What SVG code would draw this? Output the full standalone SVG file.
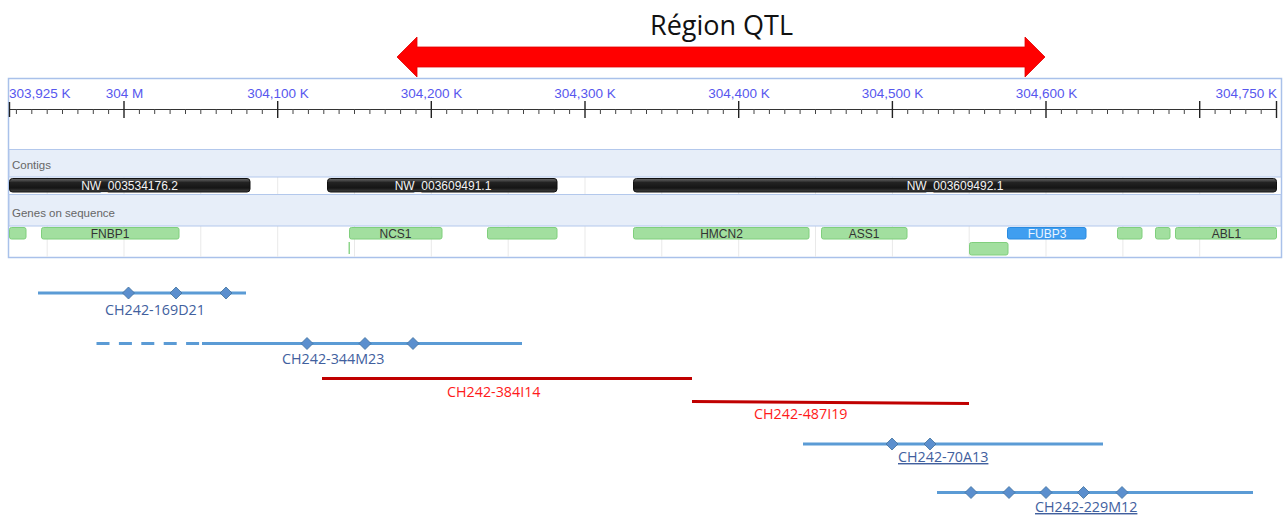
<svg xmlns="http://www.w3.org/2000/svg" width="1287" height="518" viewBox="0 0 1287 518">
<style>
.tick{font-family:"Liberation Sans",Arial,sans-serif;font-size:13.5px;fill:#5757ee}
.band{fill:#e7eef9;stroke:#b3c8ec;stroke-width:1}
.bandlbl{font-family:"Liberation Sans",Arial,sans-serif;font-size:11.5px;fill:#666}
.contig{fill:url(#cg);stroke:#111;stroke-width:1}
.clbl{font-family:"Liberation Sans",Arial,sans-serif;font-size:12px;fill:#f4f4f4;text-anchor:middle}
.gene{fill:#a2df9f;stroke:#80cf7d;stroke-width:1}
.glbl{font-family:"Liberation Sans",Arial,sans-serif;font-size:12px;fill:#333;text-anchor:middle}
.grid{stroke:#e9e9e9;stroke-width:1}
.clone{stroke:#5b9bd5;stroke-width:3;fill:none}
.redclone{stroke:#c00000;stroke-width:3;fill:none}
.dia{fill:#5b8fce;stroke:#41719c;stroke-width:0.8}
.blbl{font-family:"Open Sans","Liberation Sans",sans-serif;font-size:14.3px;fill:#41609e}
.rlbl{font-family:"Open Sans","Liberation Sans",sans-serif;font-size:14.3px;fill:#ff1a1a}
</style>
<defs>
<linearGradient id="cg" x1="0" y1="0" x2="0" y2="1">
<stop offset="0" stop-color="#6a6a6a"/>
<stop offset="0.3" stop-color="#222"/>
<stop offset="0.7" stop-color="#151515"/>
<stop offset="1" stop-color="#444"/>
</linearGradient>
<path id="dia" d="M0,-6 L6,0 L0,6 L-6,0Z"/>
</defs>
<rect width="1287" height="518" fill="#fff"/>

<g id="qtl-region">
<text x="650" y="35" font-family="'Open Sans','Liberation Sans',sans-serif" font-size="27" fill="#111">Région QTL</text>
<polygon points="397,57 417,37 417,47 1025,47 1025,37 1045,57 1025,77 1025,67 417,67 417,77" fill="#ff0000" stroke="#e00000" stroke-width="0.8"/>
</g>

<g id="panel">
<rect x="8.5" y="78.5" width="1273" height="179" fill="#fff" stroke="#a9c1ea" stroke-width="1.5"/>
</g>

<g id="ruler">
<path d="M9 109.5H1276.5" stroke="#333" stroke-width="1"/>
<path stroke="#444" stroke-width="1" d="M16.4 109v5M31.8 109v5M47.2 109v5M62.5 109v5M77.9 109v5M93.3 109v5M108.6 109v5M139.4 109v5M154.7 109v5M170.1 109v5M185.5 109v5M200.8 109v5M216.2 109v5M231.6 109v5M246.9 109v5M262.3 109v5M293 109v5M308.4 109v5M323.8 109v5M339.1 109v5M354.5 109v5M369.9 109v5M385.2 109v5M400.6 109v5M416 109v5M446.7 109v5M462.1 109v5M477.4 109v5M492.8 109v5M508.2 109v5M523.5 109v5M538.9 109v5M554.3 109v5M569.6 109v5M600.4 109v5M615.7 109v5M631.1 109v5M646.5 109v5M661.8 109v5M677.2 109v5M692.6 109v5M707.9 109v5M723.3 109v5M754 109v5M769.4 109v5M784.8 109v5M800.1 109v5M815.5 109v5M830.9 109v5M846.2 109v5M861.6 109v5M877 109v5M907.7 109v5M923.1 109v5M938.4 109v5M953.8 109v5M969.2 109v5M984.6 109v5M999.9 109v5M1015.3 109v5M1030.7 109v5M1061.4 109v5M1076.8 109v5M1092.1 109v5M1107.5 109v5M1122.9 109v5M1138.2 109v5M1153.6 109v5M1169 109v5M1184.3 109v5M1215.1 109v5M1230.4 109v5M1245.8 109v5M1261.2 109v5"/>
<path stroke="#222" stroke-width="1.4" d="M9.5 102v15M124 101v17M277.7 101v17M431.3 101v17M585 101v17M738.7 101v17M892.4 101v17M1046 101v17M1199.7 101v17M1276.5 101v17"/>
<text class="tick" x="9" y="98">303,925 K</text>
<text class="tick" x="124.5" y="98" text-anchor="middle">304 M</text>
<text class="tick" x="278" y="98" text-anchor="middle">304,100 K</text>
<text class="tick" x="431.5" y="98" text-anchor="middle">304,200 K</text>
<text class="tick" x="585" y="98" text-anchor="middle">304,300 K</text>
<text class="tick" x="739" y="98" text-anchor="middle">304,400 K</text>
<text class="tick" x="892.5" y="98" text-anchor="middle">304,500 K</text>
<text class="tick" x="1046.5" y="98" text-anchor="middle">304,600 K</text>
<text class="tick" x="1277" y="98" text-anchor="end">304,750 K</text>
</g>

<g id="grid">
<path class="grid" d="M47.2 177v17M124 177v17M200.8 177v17M277.7 177v17M354.5 177v17M431.3 177v17M508.2 177v17M585 177v17M661.8 177v17M738.7 177v17M815.5 177v17M892.4 177v17M969.2 177v17M1046 177v17M1122.9 177v17M1199.7 177v17"/>
<path class="grid" d="M47.2 226v31M124 226v31M200.8 226v31M277.7 226v31M354.5 226v31M431.3 226v31M508.2 226v31M585 226v31M661.8 226v31M738.7 226v31M815.5 226v31M892.4 226v31M969.2 226v31M1046 226v31M1122.9 226v31M1199.7 226v31"/>
</g>

<g id="contigs-track">
<rect class="band" x="9" y="149.5" width="1272" height="27.5"/>
<text class="bandlbl" x="12" y="169">Contigs</text>
</g>
<g id="contig-1"><rect class="contig" x="9.5" y="178.5" width="240.5" height="13.5" rx="3"/><text class="clbl" x="129.5" y="189.5">NW_003534176.2</text></g>
<g id="contig-2"><rect class="contig" x="327.5" y="178.5" width="229.5" height="13.5" rx="3"/><text class="clbl" x="443" y="189.5">NW_003609491.1</text></g>
<g id="contig-3"><rect class="contig" x="633.5" y="178.5" width="643" height="13.5" rx="3"/><text class="clbl" x="955" y="189.5">NW_003609492.1</text></g>

<g id="genes-track">
<rect class="band" x="9" y="194.5" width="1272" height="31.5"/>
<text class="bandlbl" x="12" y="217">Genes on sequence</text>
</g>
<g id="gene-a"><rect class="gene" x="9.5" y="227.5" width="16.5" height="11.5" rx="2"/></g>
<g id="gene-FNBP1"><rect class="gene" x="41.5" y="227.5" width="137.5" height="11.5" rx="2"/><text class="glbl" x="110" y="237.5">FNBP1</text></g>
<g id="gene-NCS1"><rect class="gene" x="349.5" y="227.5" width="92.5" height="11.5" rx="2"/><text class="glbl" x="395.5" y="237.5">NCS1</text><rect x="348.5" y="242" width="1.5" height="12" fill="#8fd68c"/></g>
<g id="gene-b"><rect class="gene" x="487.5" y="227.5" width="69.5" height="11.5" rx="2"/></g>
<g id="gene-HMCN2"><rect class="gene" x="633.5" y="227.5" width="175.5" height="11.5" rx="2"/><text class="glbl" x="721.5" y="237.5">HMCN2</text></g>
<g id="gene-ASS1"><rect class="gene" x="821.5" y="227.5" width="85.5" height="11.5" rx="2"/><text class="glbl" x="864" y="237.5">ASS1</text></g>
<g id="gene-c"><rect class="gene" x="969.5" y="242.5" width="38.5" height="12.5" rx="2"/></g>
<g id="gene-FUBP3"><rect x="1007.5" y="227.5" width="78.5" height="11.5" rx="2" fill="#3f9ef0" stroke="#2a8be0"/><text class="glbl" x="1047" y="237.5" style="fill:#eaf4ff">FUBP3</text></g>
<g id="gene-d"><rect class="gene" x="1117.5" y="227.5" width="24.5" height="11.5" rx="2"/></g>
<g id="gene-e"><rect class="gene" x="1155.5" y="227.5" width="14.5" height="11.5" rx="2"/></g>
<g id="gene-ABL1"><rect class="gene" x="1175.5" y="227.5" width="101" height="11.5" rx="2"/><text class="glbl" x="1226.5" y="237.5">ABL1</text></g>

<g id="clone-169D21">
<path class="clone" d="M38 293H246"/>
<use href="#dia" class="dia" x="128.5" y="293"/>
<use href="#dia" class="dia" x="176" y="293"/>
<use href="#dia" class="dia" x="226" y="293"/>
<text class="blbl" x="105" y="315">CH242-169D21</text>
</g>
<g id="clone-344M23">
<path class="clone" d="M96.5 343.5H200" stroke-dasharray="13 9.4"/>
<path class="clone" d="M202 343.5H522"/>
<use href="#dia" class="dia" x="307" y="343.5"/>
<use href="#dia" class="dia" x="365" y="343.5"/>
<use href="#dia" class="dia" x="413" y="343.5"/>
<text class="blbl" x="282" y="364">CH242-344M23</text>
</g>
<g id="clone-384I14">
<path class="redclone" d="M322 378.5H692"/>
<text class="rlbl" x="447" y="397">CH242-384I14</text>
</g>
<g id="clone-487I19">
<path class="redclone" d="M692 401.5L969 403.5"/>
<text class="rlbl" x="754" y="419">CH242-487I19</text>
</g>
<g id="clone-70A13">
<path class="clone" d="M803 444H1103"/>
<use href="#dia" class="dia" x="892" y="444"/>
<use href="#dia" class="dia" x="930" y="444"/>
<text class="blbl" x="898" y="462" text-decoration="underline">CH242-70A13</text>
</g>
<g id="clone-229M12">
<path class="clone" d="M937 492.5H1253"/>
<use href="#dia" class="dia" x="971" y="492.5"/>
<use href="#dia" class="dia" x="1009" y="492.5"/>
<use href="#dia" class="dia" x="1046" y="492.5"/>
<use href="#dia" class="dia" x="1083.5" y="492.5"/>
<use href="#dia" class="dia" x="1122" y="492.5"/>
<text class="blbl" x="1035" y="512" text-decoration="underline">CH242-229M12</text>
</g>
<g id="connectors"/>
</svg>
